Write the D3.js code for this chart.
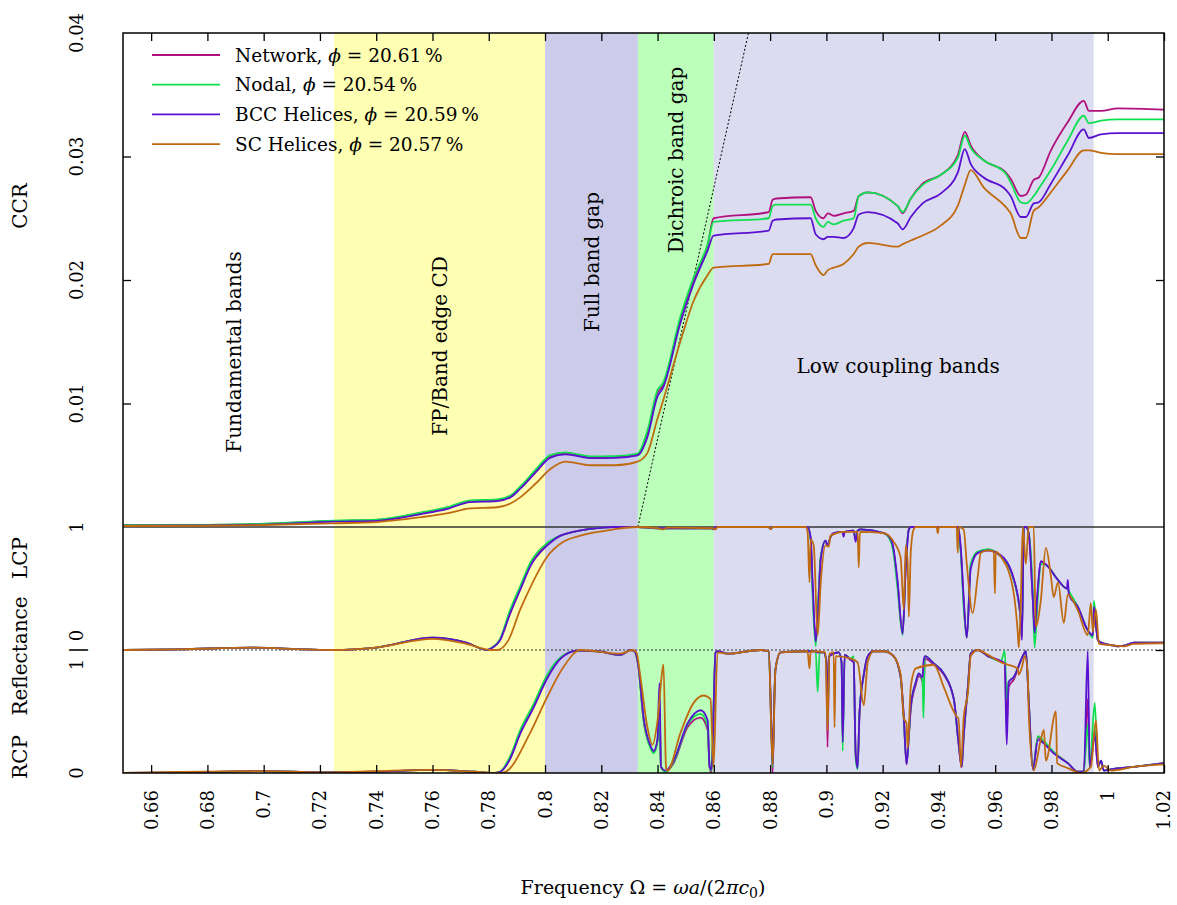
<!DOCTYPE html>
<html><head><meta charset="utf-8">
<script src="https://cdn.jsdelivr.net/npm/d3@7"></script>
<style>body{margin:0;background:#fff}svg{display:block}text{font-family:"DejaVu Serif",serif;fill:#000}</style>
</head><body>
<svg id="c" width="1177" height="905"></svg>
<script>
// ---------- DATA ----------
const seriesNames = ["Network", "Nodal", "BCC Helices", "SC Helices"];
const seriesPhi = ["20.61", "20.54", "20.59", "20.57"];
const seriesColors = ["#b0107e", "#10e050", "#5a10d0", "#c06a10"];

const xTicks = [0.66,0.68,0.70,0.72,0.74,0.76,0.78,0.80,0.82,0.84,0.86,0.88,0.90,0.92,0.94,0.96,0.98,1.00,1.02];
const xTickLabels = ["0.66","0.68","0.7","0.72","0.74","0.76","0.78","0.8","0.82","0.84","0.86","0.88","0.9","0.92","0.94","0.96","0.98","1","1.02"];
const ccrTicks = [0.01, 0.02, 0.03];
const leftLabels = ["0.04","0.03","0.02","0.01","1","1 | 0","0"];

// Regions [start, end]
const regionNames = ["FP/Band edge CD", "Full band gap", "Dichroic band gap", "Low coupling bands"];
const regionStart = [0.725, 0.80, 0.833, 0.86];
const regionEnd = [0.80, 0.833, 0.86, 0.995];
const regionColors = ["#ffffb3", "#ccccea", "#bbffbb", "#dcdcf0"];

// Light line (dotted) in CCR panel
const lightLineX = [0.833, 0.8723];
const lightLineY = [0.0, 0.04];

// CCR
const ccrX = [0.65,0.68,0.70,0.725,0.74,0.756,0.765,0.7734,0.783,0.7877,0.7912,0.7966,0.8019,0.8072,0.8161,0.825,0.8329,0.8364,0.84,0.8418,0.8482,0.8528,0.8578,0.8599,0.8795,0.8809,0.8823,0.8944,0.8962,0.8990,0.9005,0.9026,0.9061,0.9097,0.9115,0.9147,0.9253,0.9271,0.9300,0.9342,0.9406,0.9467,0.9492,0.9513,0.9559,0.9638,0.9655,0.9691,0.9709,0.9737,0.9755,0.9798,0.9858,0.9915,0.9933,0.9976,1.0036,1.02];
const ccrNetwork = [0.00012,0.00016,0.00024,0.00049,0.00057,0.00114,0.00154,0.00211,0.00219,0.0025,0.0032,0.00454,0.00576,0.006,0.00568,0.0057,0.0059,0.0076,0.0109,0.0114,0.0169,0.0200,0.0228,0.0250,0.0255,0.0265,0.0266,0.0267,0.0256,0.0250,0.0254,0.0252,0.0254,0.0256,0.0268,0.0271,0.0260,0.0254,0.0266,0.0278,0.0285,0.0301,0.0320,0.0309,0.0297,0.0287,0.0282,0.0268,0.0269,0.0281,0.0283,0.0305,0.0328,0.0345,0.0337,0.0337,0.0339,0.0338];
const ccrNodal = [0.00014,0.00018,0.00027,0.00052,0.0006,0.00118,0.00158,0.00215,0.00223,0.00255,0.00328,0.00462,0.00582,0.00604,0.00572,0.00574,0.00594,0.0078,0.0111,0.0116,0.0171,0.0202,0.0229,0.0247,0.0250,0.0260,0.0261,0.0261,0.0250,0.0243,0.0247,0.0245,0.0248,0.0250,0.0268,0.0271,0.0260,0.0255,0.0266,0.0277,0.0285,0.0299,0.0317,0.0307,0.0297,0.0286,0.0279,0.0263,0.0262,0.0268,0.0274,0.0289,0.0313,0.0333,0.0327,0.0329,0.0330,0.0330];
const ccrBCC = [0.0001,0.00013,0.0002,0.00043,0.0005,0.00105,0.00145,0.00202,0.0021,0.0024,0.0031,0.0044,0.00562,0.00588,0.00558,0.0056,0.0058,0.0073,0.0106,0.0112,0.0166,0.0197,0.0224,0.0236,0.0240,0.0248,0.0249,0.0250,0.0237,0.0233,0.0235,0.0235,0.0234,0.0242,0.0253,0.0255,0.0246,0.0241,0.0251,0.0262,0.0270,0.0287,0.0306,0.0294,0.0283,0.0273,0.0268,0.0251,0.0251,0.0262,0.0263,0.0278,0.0301,0.0322,0.0315,0.0318,0.0319,0.0319];
const ccrSC = [0.00008,0.0001,0.00016,0.0003,0.0004,0.0008,0.0011,0.0015,0.0016,0.0019,0.0024,0.0035,0.0047,0.0053,0.0050,0.0050,0.0053,0.0060,0.0088,0.0101,0.0151,0.0183,0.0204,0.0210,0.0213,0.0221,0.0221,0.0221,0.0212,0.0204,0.0208,0.0210,0.0213,0.0221,0.0227,0.0230,0.0227,0.0229,0.0232,0.0236,0.0244,0.0260,0.0277,0.0289,0.0275,0.0259,0.0254,0.0234,0.0234,0.0256,0.0259,0.0271,0.0289,0.0305,0.0305,0.0303,0.0302,0.0302];

// LCP reflectance (shared frequency grid for Network / Nodal / BCC)
const lcpX = [0.65,0.67,0.696,0.715,0.725,0.74,0.76,0.772,0.7795,0.7806,0.784,0.7875,0.7912,0.795,0.8008,0.8055,0.8101,0.8186,0.8243,0.833,0.84,0.8592,0.86,0.8606,0.8795,0.8802,0.8809,0.8933,0.8944,0.8951,0.8962,0.8969,0.8980,0.8997,0.9004,0.9015,0.9026,0.9058,0.9061,0.9065,0.9097,0.9104,0.9111,0.9122,0.9204,0.9229,0.9239,0.9253,0.9271,0.9282,0.9293,0.9300,0.9467,0.9470,0.9478,0.9488,0.9499,0.9513,0.9538,0.9574,0.9620,0.9666,0.9691,0.9695,0.9702,0.9709,0.9719,0.9734,0.9740,0.9752,0.9762,0.9787,0.9823,0.9855,0.9858,0.9862,0.9894,0.9929,0.9947,0.9951,0.9965,0.9976,1.0011,1.0036,1.0057,1.0093,1.02];
const lcpNetwork = [0,0.005,0.02,0.005,0,0.02,0.10,0.06,0,0.01,0.08,0.3,0.5,0.7,0.86,0.93,0.96,0.99,1.0,1.0,0.99,0.99,0.98,1.0,1.0,0.985,1.0,1.0,0.9,0.51,0.1,0.3,0.75,0.89,0.85,0.92,0.95,0.96,0.93,0.96,0.97,0.9,0.97,0.98,0.95,0.9,0.8,0.54,0.14,0.68,0.98,1.0,1.0,0.98,0.8,0.4,0.1,0.68,0.79,0.81,0.76,0.57,0.24,0.1,1.0,1.0,0.95,0.4,0.2,0.5,0.72,0.68,0.57,0.5,0.5,0.47,0.35,0.16,0.12,0.3,0.08,0.06,0.04,0.03,0.035,0.06,0.06];
const lcpNodal = [0,0.005,0.02,0.005,0,0.02,0.10,0.06,0,0.012,0.09,0.32,0.52,0.72,0.87,0.93,0.96,0.99,1.0,1.0,0.99,0.99,0.98,1.0,1.0,0.985,1.0,1.0,0.9,0.45,0.03,0.3,0.76,0.89,0.85,0.92,0.95,0.96,0.96,0.96,0.97,0.9,0.97,0.98,0.95,0.88,0.78,0.5,0.12,0.7,0.98,1.0,1.0,0.98,0.78,0.35,0.1,0.7,0.8,0.82,0.76,0.57,0.24,0.12,1.0,1.0,0.95,0.45,0.02,0.45,0.7,0.68,0.57,0.5,0.5,0.48,0.35,0.16,0.1,0.4,0.08,0.06,0.04,0.03,0.035,0.06,0.06];
const lcpBCC = [0,0.005,0.02,0.005,0,0.02,0.10,0.06,0,0.01,0.08,0.29,0.49,0.69,0.85,0.93,0.96,0.99,1.0,1.0,0.99,0.99,0.98,1.0,1.0,0.985,1.0,1.0,0.92,0.55,0.07,0.25,0.74,0.89,0.85,0.92,0.95,0.96,0.92,0.96,0.97,0.88,0.97,0.98,0.95,0.9,0.82,0.56,0.13,0.66,0.98,1.0,1.0,0.98,0.82,0.42,0.1,0.66,0.79,0.81,0.77,0.58,0.25,0.08,1.0,1.0,0.95,0.4,0.14,0.52,0.72,0.68,0.57,0.5,0.57,0.45,0.35,0.16,0.12,0.35,0.08,0.06,0.04,0.03,0.035,0.06,0.06];
const lcpSCX = [0.65,0.67,0.696,0.715,0.725,0.74,0.76,0.772,0.781,0.783,0.787,0.7912,0.795,0.8008,0.8065,0.8126,0.8243,0.833,0.84,0.8421,0.8435,0.8595,0.8606,0.8613,0.8795,0.8802,0.8809,0.8926,0.8933,0.8940,0.8944,0.8955,0.8969,0.8980,0.8997,0.9008,0.9015,0.9061,0.9111,0.9115,0.9119,0.9204,0.9239,0.9264,0.9275,0.9282,0.9289,0.9293,0.9300,0.9310,0.9318,0.9392,0.9396,0.9400,0.9463,0.9467,0.9470,0.9488,0.9499,0.9520,0.9538,0.9549,0.9574,0.9595,0.9599,0.9602,0.9620,0.9663,0.9680,0.9684,0.9691,0.9698,0.9709,0.9719,0.9737,0.9744,0.9762,0.9780,0.9798,0.9808,0.9823,0.9844,0.9858,0.9894,0.9929,0.9940,0.9947,0.9958,0.9969,1.0011,1.0057,1.0093,1.02];
const lcpSC = [0,0.005,0.02,0.005,0,0.02,0.09,0.05,0,0,0.08,0.33,0.52,0.76,0.88,0.93,0.98,1.0,0.99,0.98,0.995,0.99,0.98,1.0,1.0,0.985,1.0,1.0,0.97,0.55,0.9,0.85,0.12,0.55,0.85,0.84,0.93,0.96,0.96,0.67,0.96,0.95,0.88,0.75,0.33,0.85,0.7,0.27,0.8,0.98,1.0,1.0,0.95,1.0,1.0,0.79,1.0,0.98,0.7,0.3,0.6,0.79,0.81,0.8,0.46,0.8,0.76,0.5,0.15,0.02,0.4,1.0,0.7,1.0,1.0,0.19,0.4,0.83,0.6,0.43,0.55,0.22,0.45,0.32,0.12,0.38,0.15,0.33,0.05,0.04,0.03,0.05,0.055];

// RCP reflectance
const rcpX = [0.65,0.67,0.70,0.72,0.74,0.76,0.775,0.782,0.7841,0.7875,0.7912,0.7959,0.8008,0.8055,0.8115,0.8186,0.8268,0.8304,0.8318,0.8332,0.8350,0.8375,0.8386,0.8400,0.8403,0.8407,0.8412,0.8428,0.8457,0.8506,0.8553,0.8578,0.8585,0.8592,0.8606,0.8613,0.8649,0.8766,0.8795,0.8805,0.8809,0.8815,0.8819,0.8837,0.8933,0.8962,0.8969,0.8976,0.8990,0.9000,0.9004,0.9010,0.9044,0.9054,0.9058,0.9065,0.9086,0.9097,0.9104,0.9111,0.9118,0.9133,0.9147,0.9168,0.9204,0.9239,0.9264,0.9275,0.9285,0.9293,0.9300,0.9318,0.9328,0.9342,0.9345,0.9350,0.9382,0.9417,0.9453,0.9470,0.9481,0.9488,0.9503,0.9513,0.9538,0.9574,0.9620,0.9634,0.9641,0.9648,0.9666,0.9698,0.9709,0.9719,0.9734,0.9752,0.9773,0.9808,0.9858,0.9894,0.9915,0.9929,0.9936,0.9954,0.9965,0.9976,0.9986,1.0011,1.0093,1.02];
const rcpNetwork = [0,0.003,0.015,0.005,0.01,0.025,0.01,0,0.01,0.12,0.33,0.54,0.78,0.93,0.995,0.99,0.96,1.0,0.99,0.86,0.43,0.21,0.17,0.27,0.4,0.55,0.05,0.01,0.08,0.37,0.45,0.35,0.05,0.0,0.98,0.99,0.97,1.0,0.99,0.3,0.0,0.6,0.84,0.98,0.99,0.99,0.98,0.98,0.98,0.9,0.21,0.95,0.98,0.9,0.28,0.96,0.92,0.9,0.16,0.06,0.5,0.8,0.95,0.99,0.99,0.95,0.78,0.46,0.07,0.3,0.52,0.72,0.79,0.74,0.6,0.93,0.88,0.8,0.6,0.24,0.05,0.3,0.7,0.97,1.0,0.95,0.91,0.89,0.4,0.7,0.76,0.95,0.99,0.6,0.03,0.29,0.25,0.17,0.08,0.01,0.01,0.6,0.05,0.35,0.05,0.1,0.02,0.03,0.05,0.08];
const rcpNodal = [0,0.003,0.015,0.005,0.01,0.025,0.01,0,0.012,0.13,0.35,0.56,0.8,0.94,0.995,0.99,0.96,1.0,0.99,0.86,0.44,0.2,0.16,0.26,0.35,0.45,0.05,0.01,0.09,0.39,0.48,0.38,0.05,0.02,0.98,0.99,0.97,1.0,0.99,0.3,0.05,0.6,0.84,0.98,0.99,0.99,0.66,0.98,0.98,0.9,0.4,0.95,0.98,0.9,0.18,0.96,0.93,0.95,0.12,0.03,0.5,0.8,0.95,0.99,0.99,0.95,0.78,0.44,0.08,0.3,0.54,0.74,0.81,0.75,0.45,0.95,0.89,0.81,0.6,0.24,0.06,0.3,0.7,0.97,1.0,0.95,0.91,0.99,0.6,0.74,0.78,0.95,0.99,0.6,0.03,0.3,0.26,0.17,0.08,0.01,0.01,0.4,0.05,0.57,0.05,0.1,0.02,0.03,0.05,0.08];
const rcpBCC = [0,0.003,0.015,0.005,0.01,0.025,0.01,0,0.01,0.11,0.32,0.53,0.77,0.93,0.995,0.99,0.96,1.0,0.99,0.87,0.46,0.22,0.18,0.28,0.5,0.73,0.05,0.02,0.1,0.4,0.51,0.43,0.05,0.03,0.98,0.99,0.97,1.0,0.99,0.35,0.07,0.6,0.84,0.98,0.99,0.99,0.98,0.98,0.98,0.92,0.5,0.95,0.98,0.9,0.25,0.96,0.92,0.9,0.16,0.04,0.5,0.8,0.95,0.99,0.99,0.95,0.78,0.46,0.07,0.3,0.54,0.74,0.81,0.78,0.9,0.95,0.89,0.81,0.6,0.24,0.05,0.3,0.7,0.97,1.0,0.95,0.91,0.89,0.23,0.74,0.78,0.95,0.99,0.6,0.03,0.27,0.24,0.16,0.08,0.01,0.01,0.99,0.05,0.3,0.05,0.1,0.02,0.03,0.05,0.08];
const rcpSCX = [0.65,0.70,0.72,0.76,0.775,0.784,0.786,0.7948,0.8008,0.8065,0.8126,0.8268,0.8311,0.8325,0.8339,0.8364,0.8382,0.8400,0.8418,0.8421,0.8430,0.8435,0.8482,0.8528,0.8563,0.8588,0.8599,0.8613,0.8649,0.8766,0.8795,0.8809,0.8819,0.8837,0.8933,0.8940,0.8944,0.8997,0.9004,0.9011,0.9026,0.9029,0.9033,0.9086,0.9111,0.9133,0.9147,0.9168,0.9204,0.9239,0.9264,0.9275,0.9285,0.9289,0.9300,0.9318,0.9382,0.9417,0.9453,0.9467,0.9470,0.9478,0.9488,0.9503,0.9513,0.9538,0.9574,0.9620,0.9680,0.9684,0.9695,0.9705,0.9716,0.9719,0.9737,0.9762,0.9773,0.9780,0.9816,0.9820,0.9858,0.9904,0.9940,0.9958,0.9969,0.9986,1.0011,1.0093,1.02];
const rcpSC = [0,0.015,0.005,0.025,0.01,0,0.01,0.33,0.62,0.86,1.0,0.97,1.0,0.98,0.78,0.37,0.23,0.43,0.85,0.88,0.05,0.02,0.33,0.57,0.63,0.6,0.05,0.98,0.97,1.0,0.99,0.07,0.84,0.98,0.99,0.85,0.99,0.98,0.35,0.97,0.98,0.37,0.95,0.93,0.9,0.55,0.9,0.99,0.99,0.95,0.8,0.45,0.4,0.2,0.7,0.85,0.88,0.7,0.5,0.45,0.45,0.05,0.45,0.65,0.95,1.0,0.96,0.9,0.85,0.8,0.86,0.95,0.8,0.5,0.02,0.27,0.35,0.1,0.5,0.08,0.04,0.0,0.05,0.43,0.02,0.06,0.02,0.05,0.07];

// ---------- DRAW ----------
const svg = d3.select("#c");
const L = 123, R = 1164, T = 33, MID = 527, ZERO = 650, B = 773;
const x = d3.scaleLinear().domain([0.65, 1.02]).range([L, R]);
const yC = d3.scaleLinear().domain([0, 0.04]).range([MID, T]);
const yL = d3.scaleLinear().domain([0, 1]).range([ZERO, MID]);
const yR = d3.scaleLinear().domain([0, 1]).range([B, ZERO]);

// regions
svg.append("g").selectAll("rect").data(regionStart).join("rect")
  .attr("x", (d) => x(d)).attr("y", T)
  .attr("width", (d, i) => x(regionEnd[i]) - x(d)).attr("height", B - T)
  .attr("fill", (d, i) => regionColors[i]);

// dotted lines
svg.append("line").attr("x1", L).attr("x2", R).attr("y1", yL(0)).attr("y2", yL(0))
  .attr("stroke", "#333").attr("stroke-width", 1.2).attr("stroke-dasharray", "2,2");
svg.append("line").attr("x1", x(lightLineX[0])).attr("y1", yC(lightLineY[0]))
  .attr("x2", x(lightLineX[1])).attr("y2", yC(lightLineY[1]))
  .attr("stroke", "#000").attr("stroke-width", 1).attr("stroke-dasharray", "2,2");
// separator
svg.append("line").attr("x1", L).attr("x2", R).attr("y1", MID).attr("y2", MID)
  .attr("stroke", "#333").attr("stroke-width", 1.5);

svg.append("clipPath").attr("id", "cp").append("rect")
  .attr("x", L).attr("y", T).attr("width", R - L).attr("height", B - T);

const plotG = svg.append("g").attr("clip-path", "url(#cp)");
function drawLine(xs, ys, yScale, color) {
  const pts = xs.map((d, i) => [d, ys[i]]);
  plotG.append("path").datum(pts)
    .attr("fill", "none").attr("stroke", color).attr("stroke-width", 1.8)
    .attr("stroke-linejoin", "round")
    .attr("d", d3.line().x((d) => x(d[0])).y((d) => yScale(d[1])).curve(d3.curveMonotoneX));
}
const ccrSeries = [ccrNetwork, ccrNodal, ccrBCC, ccrSC];
const lcpSeries = [[lcpX, lcpNetwork], [lcpX, lcpNodal], [lcpX, lcpBCC], [lcpSCX, lcpSC]];
const rcpSeries = [[rcpX, rcpNetwork], [rcpX, rcpNodal], [rcpX, rcpBCC], [rcpSCX, rcpSC]];
for (let i = 0; i < 4; i++) {
  drawLine(ccrX, ccrSeries[i], yC, seriesColors[i]);
  drawLine(lcpSeries[i][0], lcpSeries[i][1], yL, seriesColors[i]);
  drawLine(rcpSeries[i][0], rcpSeries[i][1], yR, seriesColors[i]);
}

// frame and axes
const axG = svg.append("g");
axG.append("g").attr("transform", `translate(0,${B})`)
  .call(d3.axisBottom(x).tickValues(xTicks).tickSize(-8).tickFormat(""));
axG.append("g").attr("transform", `translate(0,${T})`)
  .call(d3.axisTop(x).tickValues(xTicks).tickSize(-8).tickFormat(""));
axG.append("g").attr("transform", `translate(${L},0)`)
  .call(d3.axisLeft(yC).tickValues(ccrTicks).tickSize(-8).tickFormat(""));
axG.append("g").attr("transform", `translate(${R},0)`)
  .call(d3.axisRight(yC).tickValues(ccrTicks).tickSize(-8).tickFormat(""));
axG.append("g").attr("transform", `translate(${R},0)`)
  .call(d3.axisRight(yL).tickValues([0]).tickSize(-8).tickFormat(""));
axG.selectAll(".domain").remove();
axG.selectAll("line").attr("stroke", "#000").attr("stroke-width", 1.3);
svg.append("rect").attr("x", L).attr("y", T).attr("width", R - L).attr("height", B - T)
  .attr("fill", "none").attr("stroke", "#000").attr("stroke-width", 1.5);

// x tick labels
svg.append("g").selectAll("text").data(xTicks).join("text")
  .attr("transform", (d) => `translate(${x(d)},790) rotate(-90)`)
  .attr("dy", "0.36em").attr("text-anchor", "end").attr("font-size", 18)
  .text((d, i) => xTickLabels[i]);

// left tick labels
const leftY = [yC(0.04), yC(0.03), yC(0.02), yC(0.01), yL(1), yL(0), yR(0)];
svg.append("g").selectAll("text").data(leftLabels).join("text")
  .attr("transform", (d, i) => `translate(77,${leftY[i]}) rotate(-90)`)
  .attr("dy", "0.36em").attr("text-anchor", "middle").attr("font-size", 18)
  .text((d) => d);

// left axis titles
const titles = [["CCR", 206], ["LCP", 558], ["Reflectance", 656], ["RCP", 757]];
svg.append("g").selectAll("text").data(titles).join("text")
  .attr("transform", (d) => `translate(20,${d[1]}) rotate(-90)`)
  .attr("dy", "0.36em").attr("text-anchor", "middle").attr("font-size", 20)
  .text((d) => d[0]);

// region labels
const bandLabels = [["Fundamental bands", 0.6895, 352, true], [regionNames[0], 0.7625, 346, true], [regionNames[1], 0.8166, 262, true], [regionNames[2], 0.8465, 160, true], [regionNames[3], 0.9255, 366, false]];
bandLabels.forEach((b) => {
  const t = svg.append("text").attr("font-size", 20).attr("text-anchor", "middle").attr("dy", "0.36em");
  if (b[3]) t.attr("transform", `translate(${x(b[1])},${b[2]}) rotate(-90)`);
  else t.attr("x", x(b[1])).attr("y", b[2]);
  t.text(b[0]);
});

// legend
const lg = svg.append("g");
seriesNames.forEach((n, i) => {
  const yy = 55 + i * 29.7;
  lg.append("line").attr("x1", 152).attr("x2", 220).attr("y1", yy).attr("y2", yy)
    .attr("stroke", seriesColors[i]).attr("stroke-width", 1.8);
  const t = lg.append("text").attr("x", 235).attr("y", yy).attr("dy", "0.36em").attr("font-size", 18.5);
  t.append("tspan").text(n + ", ");
  t.append("tspan").attr("font-style", "italic").text("ϕ");
  t.append("tspan").text(" = " + seriesPhi[i] + "\u2009%");
});

// x axis title
const xt = svg.append("text").attr("x", 643).attr("y", 894).attr("text-anchor", "middle").attr("font-size", 19);
xt.append("tspan").text("Frequency Ω = ");
xt.append("tspan").attr("font-style", "italic").text("ωa");
xt.append("tspan").text("/(2");
xt.append("tspan").attr("font-style", "italic").text("πc");
xt.append("tspan").attr("font-size", 14).attr("dy", 4).text("0");
xt.append("tspan").attr("dy", -4).text(")");
</script>
</body></html>
